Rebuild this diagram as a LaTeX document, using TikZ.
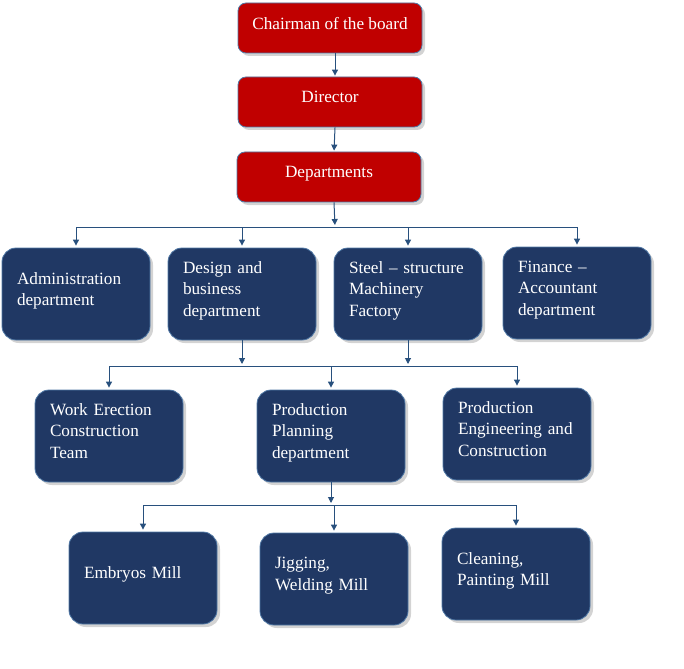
\documentclass[tikz,border=0pt]{standalone}
\usepackage{fontspec}
\setmainfont{Liberation Serif}
\usetikzlibrary{arrows.meta}
\usetikzlibrary{positioning}
\usetikzlibrary{shadows}
\definecolor{boardred}{RGB}{192,0,0}
\definecolor{deptblue}{RGB}{32,56,100}
\definecolor{edgeblue}{RGB}{80,120,165}
\definecolor{linkblue}{RGB}{40,80,125}

\begin{document}
\begin{tikzpicture}[x=1pt,y=-1pt,->,>={Triangle[length=6pt,width=6pt]},draw=linkblue,line width=1pt]
			\tikzset{redbox/.style = {shape=rectangle, rounded corners=8pt, draw=edgeblue, line width=0.8pt, fill=boardred, text=white,
					minimum width=184pt, minimum height=50pt, font=\fontsize{17.2}{21.5}\selectfont, text depth=10pt,
					drop shadow={opacity=0.35, shadow xshift=3pt, shadow yshift=-3pt}}}
			\tikzset{bluebox/.style = {shape=rectangle, rounded corners=14pt, draw=edgeblue, line width=0.8pt, fill=deptblue, text=white,
					text width=118pt, inner xsep=15pt, minimum height=92pt, align=left, font=\fontsize{17.2}{21.5}\selectfont, text depth=10pt,
					drop shadow={opacity=0.35, shadow xshift=3pt, shadow yshift=-3pt}}}
			\tikzset{twolines/.style = {text depth=31.5pt}, threelines/.style = {text depth=53pt}}
			
			\useasboundingbox (0,0) rectangle (684,668);
			
			% top of the tree
			\node[redbox] (CHAIRMAN) at (330,28) {Chairman of the board};
			\node[redbox] (DIRECTOR) at (330,102) {Director};
			\node[redbox] (DEPARTMENTS) at (329,177) {Departments};
			
			% departments
			\node[bluebox, twolines] (ADMIN) at (76,294) {Administration\\department};
			\node[bluebox, threelines] (DESIGN) at (242,294) {Design and\\business\\department};
			\node[bluebox, threelines] (STEEL) at (408,294) {Steel – structure\\Machinery\\Factory};
			\node[bluebox, threelines] (FINANCE) at (577,293) {Finance –\\Accountant\\department};
			
			% teams
			\node[bluebox, threelines] (WORK) at (109,436) {Work Erection\\Construction\\Team};
			\node[bluebox, threelines] (PLANNING) at (331,436) {Production\\Planning\\department};
			\node[bluebox, threelines] (ENGINEERING) at (517,434) {Production\\Engineering and\\Construction};
			
			% mills
			\node[bluebox] (EMBRYOS) at (143,578) {Embryos Mill};
			\node[bluebox, twolines] (JIGGING) at (334,579) {Jigging,\\Welding Mill};
			\node[bluebox, twolines] (CLEANING) at (516,574) {Cleaning,\\Painting Mill};
			
			\coordinate (BUSA) at (335,227);
			\coordinate (BUSB) at (332,366);
			\coordinate (BUSC) at (332,505);
			
			\draw[shorten >=1pt] ([xshift=5pt]CHAIRMAN.south) -- ([xshift=5pt]DIRECTOR.north);
			\draw[shorten >=1pt] ([xshift=5pt]DIRECTOR.south) -- ([xshift=5pt]DEPARTMENTS.north);
			\draw[shorten >=2pt] ([xshift=5pt]DEPARTMENTS.south) -- (BUSA);
			
			\draw[-] (ADMIN.north |- BUSA) -- (FINANCE.north |- BUSA);
			\foreach \n in {ADMIN,DESIGN,STEEL,FINANCE}
				\draw[shorten >=2pt] (\n.north |- BUSA) -- (\n.north);
			
			\draw[shorten >=2pt] (DESIGN.south) -- (DESIGN.south |- BUSB);
			\draw[shorten >=2pt] (STEEL.south) -- (STEEL.south |- BUSB);
			\draw[-] (WORK.north |- BUSB) -- (ENGINEERING.north |- BUSB);
			\foreach \n in {WORK,PLANNING,ENGINEERING}
				\draw[shorten >=2pt] (\n.north |- BUSB) -- (\n.north);
			
			\draw[shorten >=2pt] (PLANNING.south) -- (PLANNING.south |- BUSC);
			\draw[-] (EMBRYOS.north |- BUSC) -- (CLEANING.north |- BUSC);
			\foreach \n in {EMBRYOS,JIGGING,CLEANING}
				\draw[shorten >=2pt] (\n.north |- BUSC) -- (\n.north);
			
\end{tikzpicture}
\end{document}
